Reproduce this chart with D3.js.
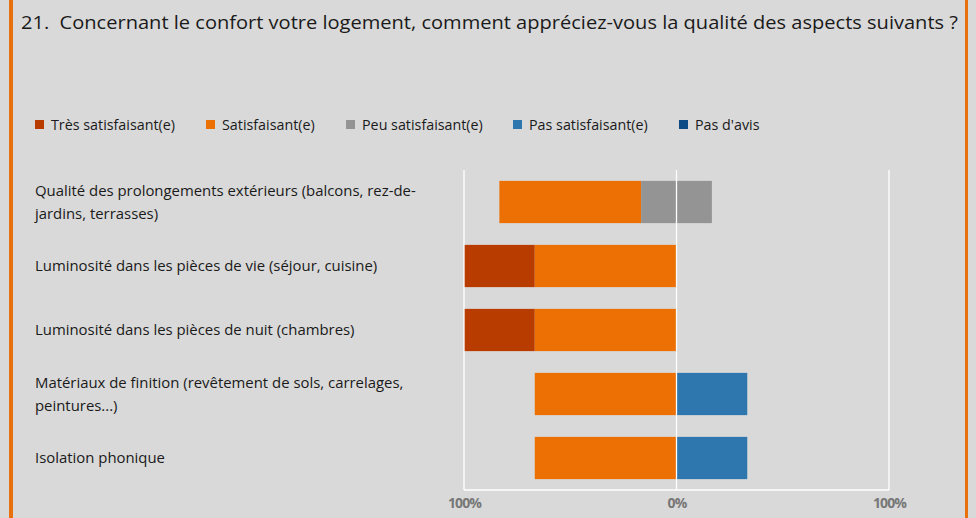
<!DOCTYPE html>
<html>
<head>
<meta charset="utf-8">
<script src="https://cdn.jsdelivr.net/npm/d3@7"></script>
<style>
  html, body { margin: 0; padding: 0; background: #d9d9d9; }
  svg { display: block; font-family: "Open Sans", sans-serif; }
</style>
</head>
<body>
<div id="chart"></div>
<script>
// Question + answers
const title = "21.  Concernant le confort votre logement, comment appréciez-vous la qualité des aspects suivants ?";

const categories = [
  "Qualité des prolongements extérieurs (balcons, rez-de-jardins, terrasses)",
  "Luminosité dans les pièces de vie (séjour, cuisine)",
  "Luminosité dans les pièces de nuit (chambres)",
  "Matériaux de finition (revêtement de sols, carrelages, peintures...)",
  "Isolation phonique"
];
// how the labels are broken on screen
const labelLines = [
  ["Qualité des prolongements extérieurs (balcons, rez-de-", "jardins, terrasses)"],
  ["Luminosité dans les pièces de vie (séjour, cuisine)"],
  ["Luminosité dans les pièces de nuit (chambres)"],
  ["Matériaux de finition (revêtement de sols, carrelages,", "peintures...)"],
  ["Isolation phonique"]
];

const answers = ["Très satisfaisant(e)", "Satisfaisant(e)", "Peu satisfaisant(e)", "Pas satisfaisant(e)", "Pas d'avis"];
const colors = ["#b83c00", "#ec7004", "#949494", "#2e77ae", "#0b4a84"];

// percentages per answer, one entry per category
const tresSatisfait = [0, 33.3, 33.3, 0, 0];
const satisfait     = [66.7, 66.7, 66.7, 66.7, 66.7];
const peuSatisfait  = [33.3, 0, 0, 0, 0];
const pasSatisfait  = [0, 0, 0, 33.3, 33.3];
const pasDAvis      = [0, 0, 0, 0, 0];

const tickValues = [-100, 0, 100];

const W = 976, H = 518;
const svg = d3.select("#chart").append("svg")
  .attr("width", W).attr("height", H);

svg.append("rect").attr("width", W).attr("height", H).attr("fill", "#d9d9d9");
// orange side borders
svg.append("rect").attr("x", 9).attr("y", 0).attr("width", 4).attr("height", H).attr("fill", "#e8700f");
svg.append("rect").attr("x", 965).attr("y", 0).attr("width", 3).attr("height", H).attr("fill", "#e8700f");

svg.append("text")
  .attr("x", 21).attr("y", 29)
  .attr("font-size", 17.5)
  .attr("fill", "#1a1a1a")
  .attr("textLength", 937)
  .attr("lengthAdjust", "spacingAndGlyphs")
  .attr("xml:space", "preserve")
  .text(title);

// legend
const legendX = [35, 206, 346, 513, 679];
const legend = svg.append("g");
answers.forEach((a, i) => {
  legend.append("rect")
    .attr("x", legendX[i]).attr("y", 120)
    .attr("width", 9).attr("height", 9)
    .attr("fill", colors[i]);
  legend.append("text")
    .attr("x", legendX[i] + 16).attr("y", 130)
    .attr("font-size", 14.3)
    .attr("fill", "#1a1a1a")
    .text(a);
});

// scales
const x = d3.scaleLinear().domain([-100, 100]).range([464, 889]);
const y = d3.scaleBand().domain(categories).range([170, 490])
  .paddingInner(0.34).paddingOuter(0.17);

// diverging stack: very/satisfied left, half of "peu" on each side, rest right
const rows = categories.map((c, i) => {
  const v = [tresSatisfait[i], satisfait[i], peuSatisfait[i], pasSatisfait[i], pasDAvis[i]];
  const segs = [];
  let left = -(v[0] + v[1] + v[2] / 2);
  v.forEach((val, k) => {
    if (val > 0) segs.push({ cat: c, k: k, x0: left, x1: left + val });
    left += val;
  });
  return segs;
}).flat();

svg.append("g")
  .selectAll("rect")
  .data(rows)
  .join("rect")
  .attr("x", d => x(d.x0))
  .attr("y", d => y(d.cat))
  .attr("width", d => x(d.x1) - x(d.x0))
  .attr("height", y.bandwidth())
  .attr("fill", d => colors[d.k]);

// white frame: left, right, bottom + zero line
const frame = svg.append("g").attr("stroke", "#fff").attr("stroke-width", 1.3);
tickValues.forEach(t => {
  frame.append("line")
    .attr("x1", x(t)).attr("x2", x(t))
    .attr("y1", 170).attr("y2", 490);
});
frame.append("line")
  .attr("x1", x(-100)).attr("x2", x(100))
  .attr("y1", 490).attr("y2", 490);

// x axis labels
const axis = svg.append("g")
  .attr("transform", "translate(0,493)")
  .call(d3.axisBottom(x).tickValues(tickValues).tickSize(0).tickPadding(5)
    .tickFormat(d => Math.abs(d) + "%"));
axis.select(".domain").remove();
axis.selectAll("text")
  .attr("font-family", "'Open Sans', sans-serif")
  .attr("font-size", 14)
  .attr("font-weight", "bold")
  .attr("letter-spacing", -0.9)
  .attr("fill", "#777");

// category labels
const labels = svg.append("g");
categories.forEach((c, i) => {
  const lines = labelLines[i];
  const cy = y(c) + y.bandwidth() / 2;
  const t = labels.append("text")
    .attr("x", 35)
    .attr("font-size", 14.9)
    .attr("fill", "#1a1a1a");
  lines.forEach((ln, j) => {
    t.append("tspan")
      .attr("x", 35)
      .attr("y", cy + (j - (lines.length - 1) / 2) * 23 + 5)
      .text(ln);
  });
});
</script>
</body>
</html>
